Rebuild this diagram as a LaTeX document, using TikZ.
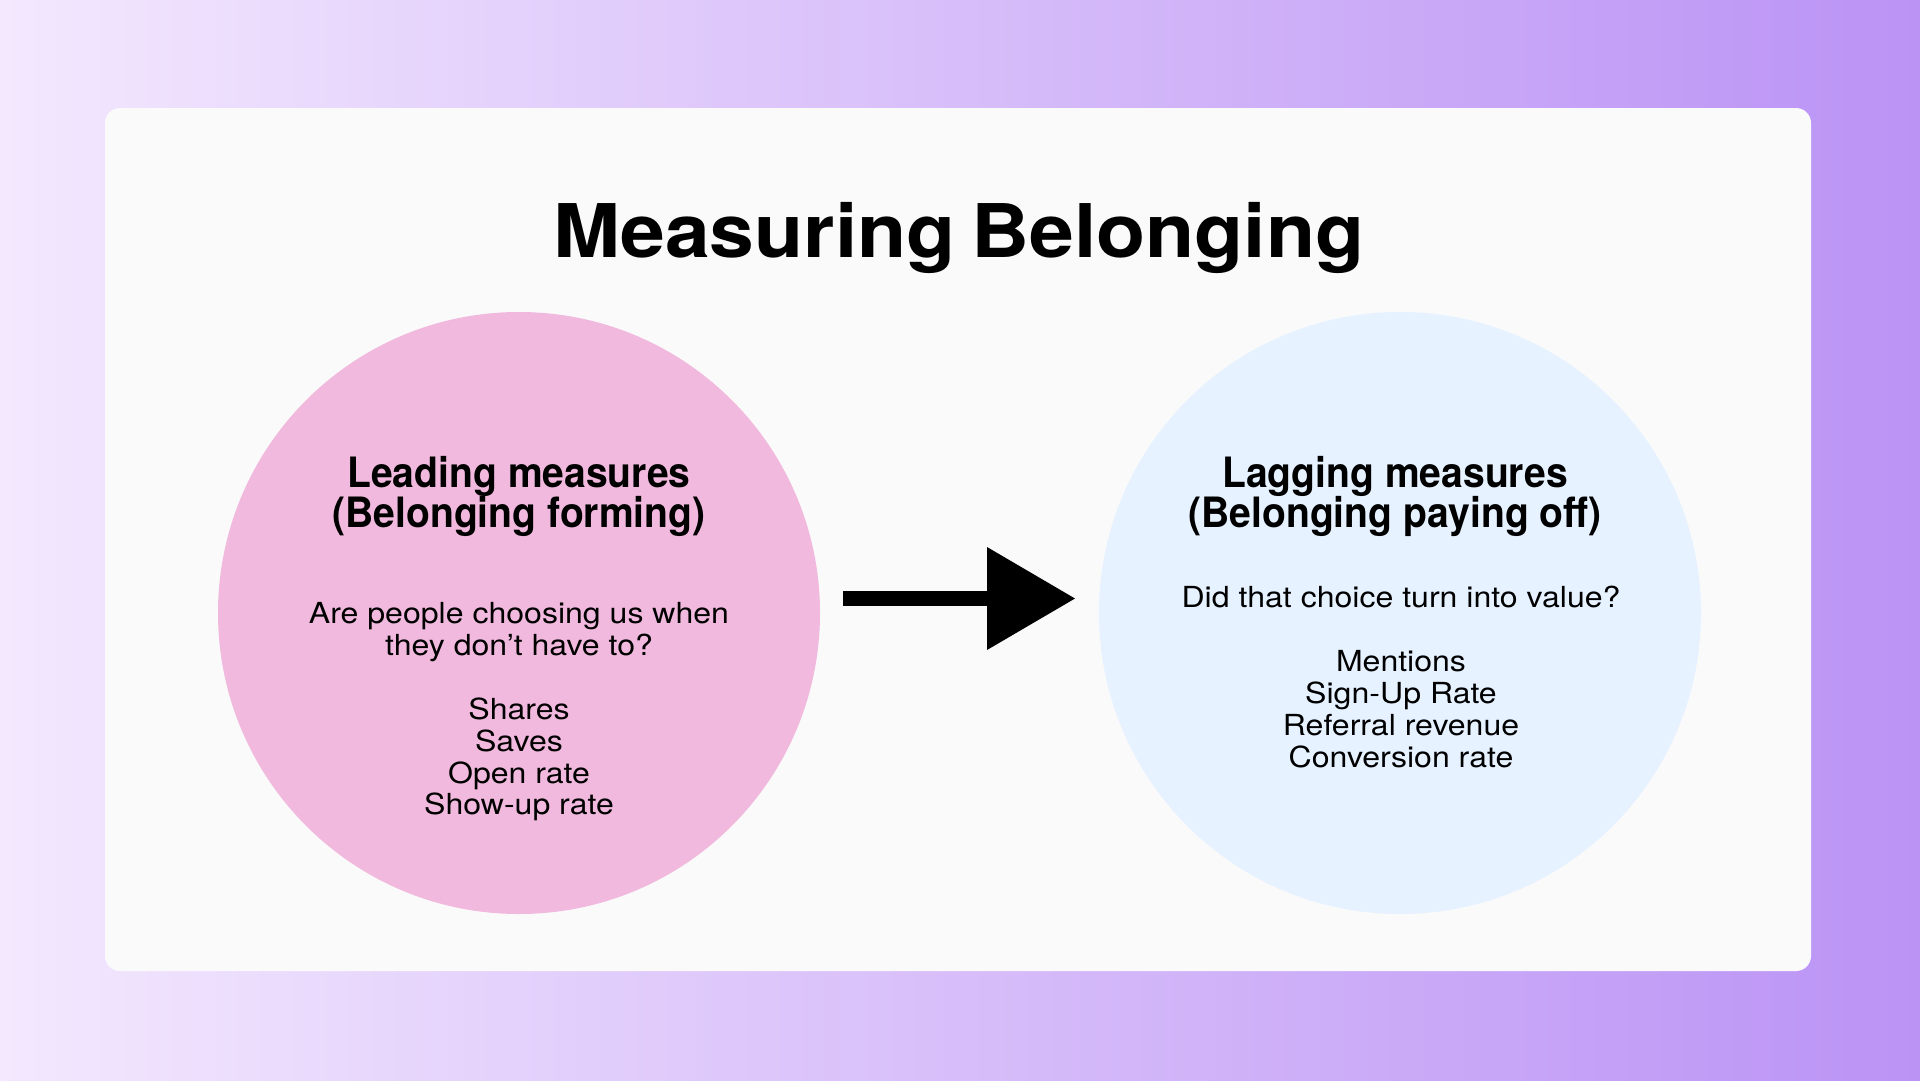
\documentclass[tikz,border=0pt]{standalone}
\usepackage{fontspec}
\setmainfont{TeX Gyre Heros}
\newfontfamily\titlefont[FakeStretch=1.087,WordSpace=0.7]{TeX Gyre Heros}
\newfontfamily\headfont[FakeStretch=0.935]{TeX Gyre Heros}
\newfontfamily\bodyfont[FakeStretch=1.105]{TeX Gyre Heros}
\definecolor{bgleft}{RGB}{243,232,254}
\definecolor{bgright}{RGB}{187,147,245}
\definecolor{cardbg}{RGB}{250,250,250}
\definecolor{pinkc}{RGB}{240,185,221}
\definecolor{bluec}{RGB}{230,242,255}
\tikzset{
  bubble/.style={circle, inner sep=0pt, minimum size=602pt, draw=none},
  titletext/.style={anchor=base, inner sep=0pt, font=\titlefont\bfseries\fontsize{74}{80}\selectfont},
  headtext/.style={anchor=base, inner sep=0pt, font=\headfont\bfseries\fontsize{41.8}{45}\selectfont},
  bodytext/.style={anchor=base, inner sep=0pt, font=\bodyfont\fontsize{29}{32}\selectfont},
}
\begin{document}
\begin{tikzpicture}[x=1pt,y=-1pt]
\useasboundingbox (0,0) rectangle (1920,1080);
\shade[left color=bgleft, right color=bgright] (0,0) rectangle (1920,1080);
\fill[cardbg, rounded corners=15pt] (105,108) rectangle (1811,971);

\node[titletext] (title) at (959,257) {Measuring Belonging};

\node[bubble, fill=pinkc] (lc) at (519,613) {};
\node[bubble, fill=bluec] (rc) at (1400,613) {};

% left texts
\node[headtext] (lh1) at (519,487) {Leading measures};
\node[headtext] (lh2) at (519,527) {(Belonging forming)};
\node[bodytext] (lb1) at (519,623) {Are people choosing us when};
\node[bodytext] (lb2) at (519,655) {they don’t have to?};
\node[bodytext] (li1) at (519,719) {Shares};
\node[bodytext] (li2) at (519,751) {Saves};
\node[bodytext] (li3) at (519,783) {Open rate};
\node[bodytext] (li4) at (519,814) {Show-up rate};

% right texts
\node[headtext] (rh1) at (1395,487) {Lagging measures};
\node[headtext] (rh2) at (1395,527) {(Belonging paying off)};
\node[bodytext] (rb1) at (1401,607) {Did that choice turn into value?};
\node[bodytext] (ri1) at (1401,671) {Mentions};
\node[bodytext] (ri2) at (1401,703) {Sign-Up Rate};
\node[bodytext] (ri3) at (1401,735) {Referral revenue};
\node[bodytext] (ri4) at (1401,767) {Conversion rate};

% arrow
\coordinate (astart) at (843,598.5);
\coordinate (abase) at (990,598.5);
\coordinate (atop) at (987,547);
\coordinate (abot) at (987,650);
\coordinate (atip) at (1075,598.5);
\draw[line width=15pt, black] (astart) -- (abase);
\fill[black] (atop) -- (atip) -- (abot) -- cycle;
\end{tikzpicture}
\end{document}
